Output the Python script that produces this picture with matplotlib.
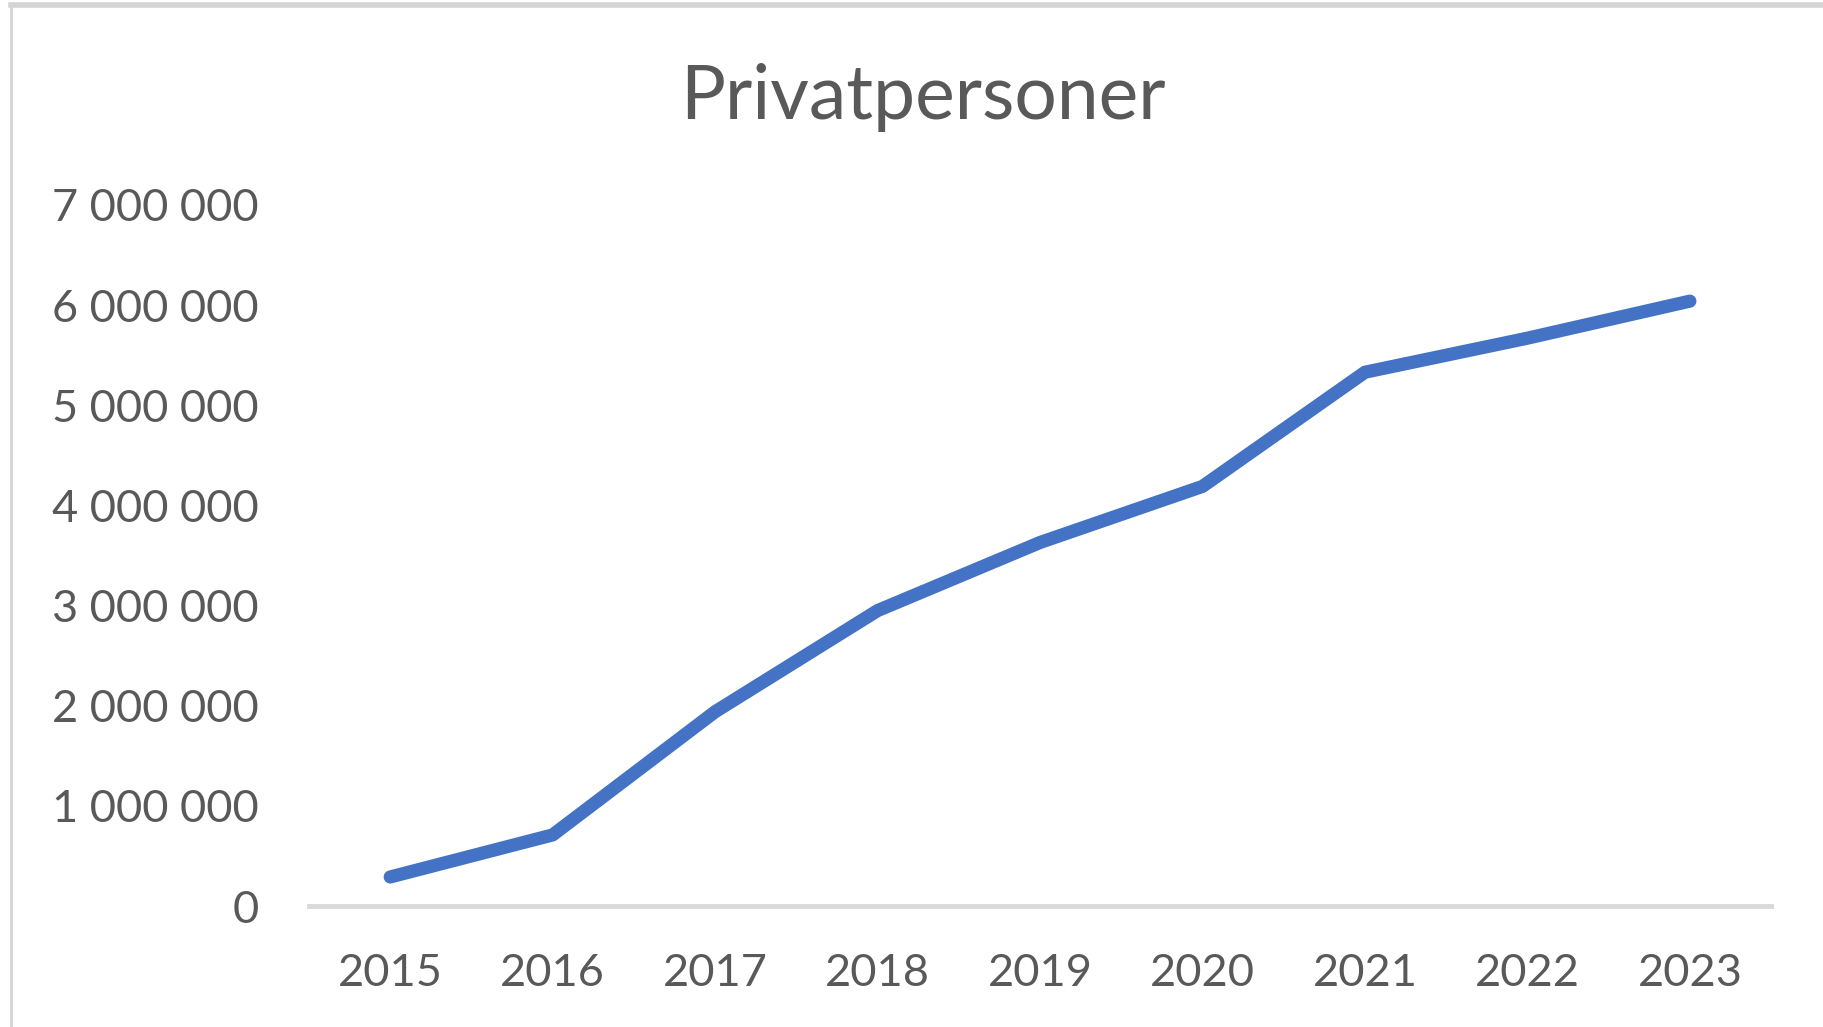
import matplotlib.pyplot as plt
from matplotlib.lines import Line2D
from matplotlib.ticker import FuncFormatter

# Data
years = ['2015', '2016', '2017', '2018', '2019', '2020', '2021', '2022', '2023']
persons = [290000, 710000, 1940000, 2950000, 3630000, 4190000, 5330000, 5670000, 6040000]
yticks = [0, 1000000, 2000000, 3000000, 4000000, 5000000, 6000000, 7000000]

plt.rcParams['font.family'] = ['Lato', 'DejaVu Sans']
txt = '#595959'

fig = plt.figure(figsize=(18.24, 10.27), dpi=100)
ax = fig.add_axes([0.1694, 0.1178, 0.8016, 0.6826])

x = list(range(len(years)))
ax.plot(x, persons, color='#4472C4', lw=9.5, solid_capstyle='round',
        solid_joinstyle='round')

ax.set_xlim(-0.5, len(years) - 0.5)
ax.set_ylim(0, 7000000)
ax.set_xticks(x)
ax.set_xticklabels(years)
ax.set_yticks(yticks)
ax.yaxis.set_major_formatter(FuncFormatter(lambda v, p: f'{int(v):,}'.replace(',', ' ')))

for s in ['top', 'right', 'left']:
    ax.spines[s].set_visible(False)
ax.spines['bottom'].set_color('#D9D9D9')
ax.spines['bottom'].set_linewidth(3.5)
ax.tick_params(length=0, labelsize=32.5, colors=txt)
ax.tick_params(axis='x', pad=34)
ax.tick_params(axis='y', pad=36)

fig.text(0.506, 0.905, 'Privatpersoner', ha='center', va='center',
         fontsize=54, color=txt)

# screenshot frame (top and left edge)
fig.add_artist(Line2D([0.006, 1], [0.995, 0.995], transform=fig.transFigure,
                      color='#D4D4D4', lw=4))
fig.add_artist(Line2D([0.0063, 0.0063], [0, 0.995], transform=fig.transFigure,
                      color='#D4D4D4', lw=2))

plt.savefig('out.png', dpi=100)
